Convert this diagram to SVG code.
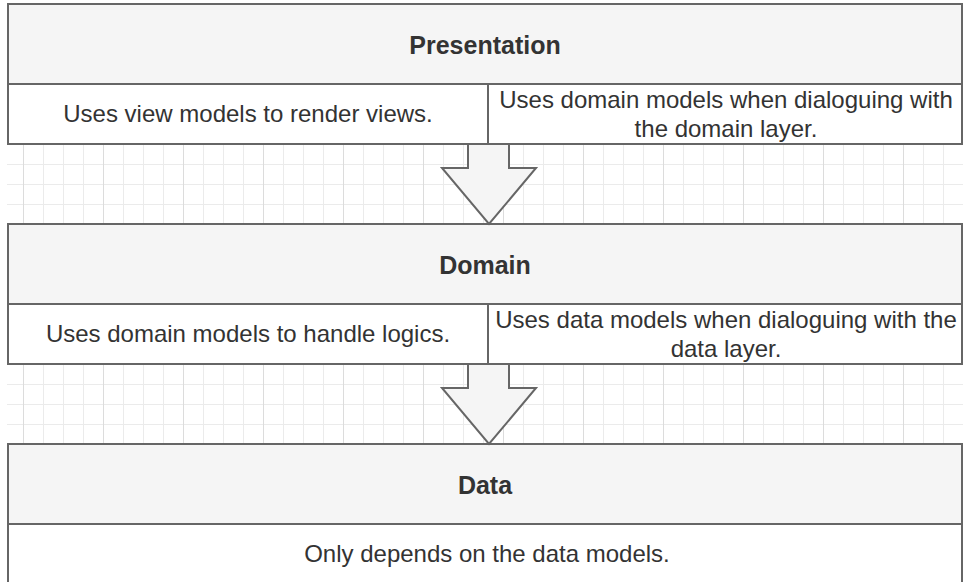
<svg xmlns="http://www.w3.org/2000/svg" width="963" height="582" viewBox="0 0 963 582">
<style>
.hdr{fill:#f5f5f5;stroke:#666666;stroke-width:2}
.cell{fill:#ffffff;stroke:#666666;stroke-width:2}
.arrow{fill:#f5f5f5;stroke:#666666;stroke-width:2;stroke-linejoin:miter}
.title{font-family:"Liberation Sans",Arial,sans-serif;font-size:25px;font-weight:bold;fill:#333333;text-anchor:middle}
.txt{font-family:"Liberation Sans",Arial,sans-serif;font-size:24px;fill:#333333;text-anchor:middle}
.gmin{stroke:#ebebeb;stroke-width:1}
.gmaj{stroke:#dcdcdc;stroke-width:1}
</style>
<defs>
<pattern id="grid" x="3" y="4" width="80" height="20" patternUnits="userSpaceOnUse">
<line class="gmin" x1="0" y1="0.5" x2="80" y2="0.5"/>
<line class="gmin" x1="0.5" y1="0" x2="0.5" y2="20"/>
<line class="gmin" x1="40.5" y1="0" x2="40.5" y2="20"/>
<line class="gmin" x1="60.5" y1="0" x2="60.5" y2="20"/>
<line class="gmaj" x1="20.5" y1="0" x2="20.5" y2="20"/>
</pattern>
</defs>
<rect width="963" height="582" fill="#ffffff"/>
<rect x="7" y="144" width="956" height="80" fill="url(#grid)"/>
<rect x="7" y="364" width="956" height="80" fill="url(#grid)"/>

<g id="presentation">
<rect class="hdr" x="8" y="4" width="954" height="80"/>
<text class="title" x="485" y="54">Presentation</text>
</g>
<g id="presentation-view">
<rect class="cell" x="8" y="84" width="480" height="60"/>
<text class="txt" x="248" y="122">Uses view models to render views.</text>
</g>
<g id="presentation-domain">
<rect class="cell" x="488" y="84" width="474" height="60"/>
<text class="txt" x="726" y="108">Uses domain models when dialoguing with</text>
<text class="txt" x="726" y="137">the domain layer.</text>
</g>

<g id="domain">
<rect class="hdr" x="8" y="224" width="954" height="80"/>
<text class="title" x="485" y="274">Domain</text>
</g>
<g id="domain-logic">
<rect class="cell" x="8" y="304" width="480" height="60"/>
<text class="txt" x="248" y="342">Uses domain models to handle logics.</text>
</g>
<g id="domain-data">
<rect class="cell" x="488" y="304" width="474" height="60"/>
<text class="txt" x="726" y="328">Uses data models when dialoguing with the</text>
<text class="txt" x="726" y="357">data layer.</text>
</g>

<g id="data">
<rect class="hdr" x="8" y="444" width="954" height="80"/>
<text class="title" x="485" y="494">Data</text>
</g>
<g id="data-body">
<rect class="cell" x="8" y="524" width="954" height="70"/>
<text class="txt" x="487" y="562">Only depends on the data models.</text>
</g>

<g id="connectors">
<polygon class="arrow" points="468,144 509,144 509,168 536,168 489,224 442,168 468,168"/>
<polygon class="arrow" points="468,364 509,364 509,388 536,388 489,444 442,388 468,388"/>
</g>
</svg>
